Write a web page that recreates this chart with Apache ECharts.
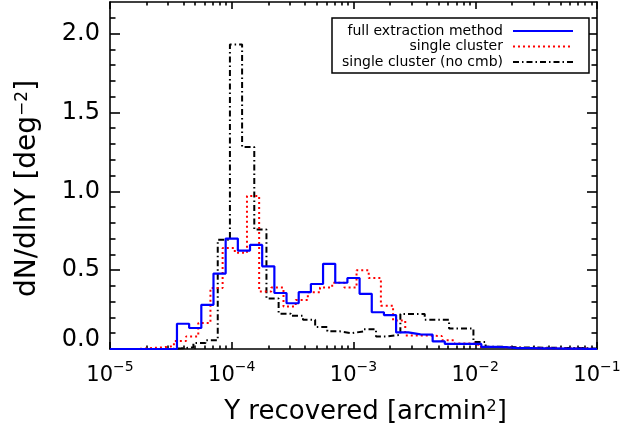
<!DOCTYPE html>
<html><head><meta charset="utf-8">
<script src="https://cdn.jsdelivr.net/npm/echarts@6/dist/echarts.min.js"></script>
<style>html,body{margin:0;padding:0;background:#fff}#c{width:626px;height:436px}</style>
</head><body><div id="c"></div>
<script>
// Series names (legend)
const seriesNames = ['full extraction method', 'single cluster', 'single cluster (no cmb)'];

// Histogram bin edges, given as log10(Y recovered [arcmin^2]);
// value k is dN/dlnY between edge k and edge k+1.
const fullEdges = [-5.0, -4.45, -4.35, -4.25, -4.15, -4.05, -3.95, -3.85, -3.75, -3.65, -3.55, -3.45, -3.35, -3.25, -3.15, -3.05, -2.95, -2.85, -2.75, -2.65, -2.55, -2.45, -2.35, -2.25, -2.15, -2.05, -1.95, -1.85, -1.75, -1.65, -1.55, -1.45, -1.35, -1.25, -1.15, -1.0];
const fullValues = [0, 0.16, 0.133, 0.28, 0.478, 0.70, 0.624, 0.66, 0.524, 0.355, 0.29, 0.36, 0.412, 0.54, 0.42, 0.45, 0.35, 0.233, 0.215, 0.105, 0.093, 0.091, 0.048, 0.032, 0.032, 0.032, 0.013, 0.012, 0.006, 0.006, 0.004, 0.004, 0.003, 0.002, 0];

const singleEdges = [-5.0, -4.775, -4.675, -4.575, -4.475, -4.375, -4.275, -4.175, -4.075, -3.975, -3.875, -3.775, -3.675, -3.575, -3.475, -3.375, -3.275, -3.175, -3.075, -2.975, -2.875, -2.775, -2.675, -2.575, -2.475, -2.375, -2.275, -2.175, -2.075, -1.975, -1.875, -1.775, -1.675, -1.575, -1.475, -1.375, -1.275, -1.175, -1.075, -1.0];
const singleValues = [0, 0.005, 0.01, 0.018, 0.05, 0.08, 0.165, 0.387, 0.64, 0.61, 0.97, 0.365, 0.39, 0.27, 0.31, 0.36, 0.39, 0.42, 0.39, 0.50, 0.45, 0.275, 0.18, 0.085, 0.085, 0.082, 0.056, 0.035, 0.034, 0.013, 0.012, 0.008, 0.006, 0.005, 0.004, 0.004, 0.003, 0.003, 0];

const noCmbEdges = [-5.0, -4.515, -4.415, -4.315, -4.215, -4.115, -4.015, -3.915, -3.815, -3.715, -3.615, -3.515, -3.415, -3.315, -3.215, -3.115, -3.015, -2.915, -2.815, -2.715, -2.615, -2.515, -2.415, -2.315, -2.215, -2.115, -2.015, -1.915, -1.815, -1.715, -1.615, -1.515, -1.415, -1.315, -1.215, -1.115, -1.015, -1.0];
const noCmbValues = [0, 0.004, 0.01, 0.038, 0.055, 0.693, 1.93, 1.28, 0.757, 0.32, 0.224, 0.211, 0.186, 0.14, 0.112, 0.10, 0.112, 0.125, 0.08, 0.09, 0.222, 0.222, 0.186, 0.186, 0.13, 0.13, 0.045, 0.015, 0.012, 0.01, 0.01, 0.008, 0.008, 0.006, 0.006, 0.003, 0];

// Axis ticks
const xDecades = [-5, -4, -3, -2, -1];              // major tick exponents
const xMinorMultipliers = [2, 3, 4, 5, 6, 7, 8, 9];  // minor log ticks
const yMajor = [0, 0.5, 1.0, 1.5, 2.0];
const yMinor = [0.1, 0.2, 0.3, 0.4, 0.6, 0.7, 0.8, 0.9, 1.1, 1.2, 1.3, 1.4, 1.6, 1.7, 1.8, 1.9, 2.1];

const FONT = 'DejaVu Sans';
const xMinor = [];
xDecades.slice(0, -1).forEach(d => xMinorMultipliers.forEach(m => xMinor.push(d + Math.log10(m))));

function histData(edges, values) {
  return edges.map((e, i) => [Math.pow(10, e), i < values.length ? values[i] : values[values.length - 1]]);
}

const frame = { color: '#000', width: 1.6 };
function xAx(pos, major, extra) {
  return Object.assign({
    type: 'value', min: -5, max: -1, interval: 1, position: pos,
    axisLine: { show: major, onZero: false, lineStyle: frame },
    axisTick: major ? { inside: true, length: 7, lineStyle: frame, customValues: xDecades }
                    : { inside: true, length: 3.5, lineStyle: frame, customValues: xMinor },
    axisLabel: { show: false },
    splitLine: { show: false }
  }, extra || {});
}
function yAx(pos, major, extra) {
  return Object.assign({
    type: 'value', min: 0, max: 2.2, position: pos,
    axisLine: { show: major, onZero: false, lineStyle: frame },
    axisTick: major ? { inside: true, length: 10, lineStyle: frame, customValues: yMajor }
                    : { inside: true, length: 5.5, lineStyle: frame, customValues: yMinor },
    axisLabel: { show: false },
    splitLine: { show: false }
  }, extra || {});
}

const chart = echarts.init(document.getElementById('c'), null, { renderer: 'canvas' });
chart.setOption({
  animation: false,
  backgroundColor: '#fff',
  textStyle: { fontFamily: FONT },
  grid: { left: 110, right: 29, top: 2, bottom: 87, containLabel: false },
  legend: {
    data: seriesNames, orient: 'vertical', align: 'right',
    left: 332, top: 18, itemWidth: 60, itemHeight: 14, itemGap: 1.5,
    padding: [6, 15, 4, 10], borderColor: '#000', borderWidth: 1.5, backgroundColor: '#fff',
    selectedMode: false,
    itemStyle: { opacity: 0, color: 'rgba(0,0,0,0)', borderWidth: 0 },
    textStyle: { fontSize: 14, fontFamily: FONT, color: '#000', padding: [0, 5, 0, 0] }
  },
  xAxis: [
    { type: 'log', logBase: 10, min: 1e-5, max: 1e-1, show: false },
    xAx('bottom', true, {
      axisLabel: {
        show: true, margin: 11, customValues: xDecades,
        formatter: v => '{b|10}{s|\u2212' + Math.abs(v) + '}',
        rich: {
          b: { fontSize: 21, fontFamily: FONT, color: '#000', lineHeight: 26, verticalAlign: 'bottom' },
          s: { fontSize: 14, fontFamily: FONT, color: '#000', lineHeight: 14, verticalAlign: 'top' }
        }
      },
      name: 'Y recovered [arcmin{s|2}]', nameLocation: 'middle', nameGap: 50,
      nameTextStyle: {
        fontSize: 26, fontFamily: FONT, color: '#000', padding: [0, 0, 0, 24],
        rich: { s: { fontSize: 16, fontFamily: FONT, color: '#000', verticalAlign: 'top', lineHeight: 16 } }
      }
    }),
    xAx('bottom', false),
    xAx('top', true),
    xAx('top', false)
  ],
  yAxis: [
    yAx('left', true, {
      axisLabel: {
        show: true, margin: 10, fontSize: 24, fontFamily: FONT, color: '#000', customValues: yMajor,
        formatter: v => v === 0 ? '{z|0.0}' : v.toFixed(1),
        rich: { z: { fontSize: 24, fontFamily: FONT, color: '#000', padding: [0, 0, 18, 0] } }
      },
      name: 'dN/dlnY [deg{s|\u22122}]', nameLocation: 'middle', nameGap: 68,
      nameTextStyle: {
        fontSize: 28, fontFamily: FONT, color: '#000', padding: [0, 26, 0, 0],
        rich: { s: { fontSize: 17, fontFamily: FONT, color: '#000', verticalAlign: 'top', lineHeight: 17 } }
      }
    }),
    yAx('left', false),
    yAx('right', true),
    yAx('right', false)
  ],
  series: [
    {
      name: seriesNames[0], type: 'line', step: 'end', xAxisIndex: 0, yAxisIndex: 0,
      symbol: 'none', z: 5, data: histData(fullEdges, fullValues),
      lineStyle: { color: '#0000ff', width: 2.2 }, itemStyle: { color: '#0000ff' }
    },
    {
      name: seriesNames[1], type: 'line', step: 'end', xAxisIndex: 0, yAxisIndex: 0,
      symbol: 'none', z: 4, data: histData(singleEdges, singleValues),
      lineStyle: { color: '#ff0000', width: 2, type: [2, 3] }, itemStyle: { color: '#ff0000' }
    },
    {
      name: seriesNames[2], type: 'line', step: 'end', xAxisIndex: 0, yAxisIndex: 0,
      symbol: 'none', z: 3, data: histData(noCmbEdges, noCmbValues),
      lineStyle: { color: '#000000', width: 2, type: [6, 3, 1.5, 3] }, itemStyle: { color: '#000000' }
    }
  ]
});
</script>
</body></html>
